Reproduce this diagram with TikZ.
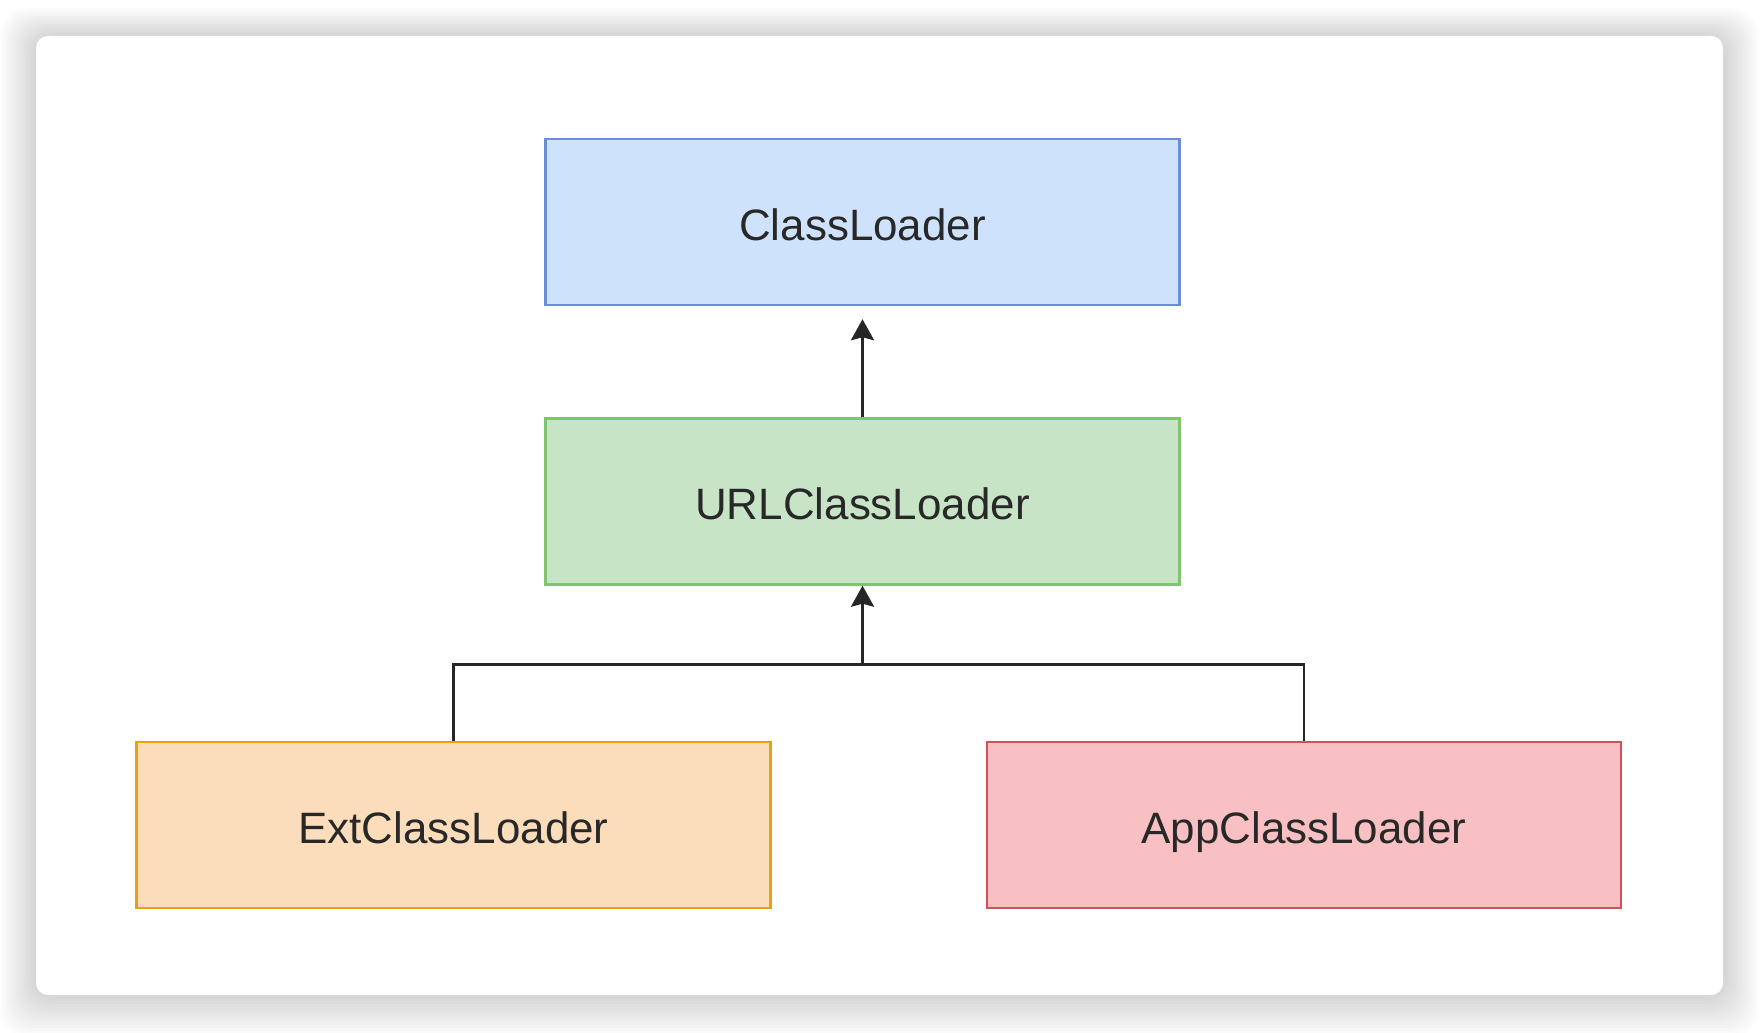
\documentclass[tikz,border=0pt]{standalone}
\usepackage{fontspec}
\setmainfont{Liberation Sans}
\usetikzlibrary{arrows.meta, positioning}
\definecolor{inkgray}{RGB}{40,40,40}
\definecolor{bluefill}{RGB}{207,226,252}
\definecolor{bluedraw}{RGB}{108,142,215}
\definecolor{greenfill}{RGB}{199,229,198}
\definecolor{greendraw}{RGB}{128,196,110}
\definecolor{orangefill}{RGB}{252,221,187}
\definecolor{orangedraw}{RGB}{232,160,20}
\definecolor{redfill}{RGB}{248,192,195}
\definecolor{reddraw}{RGB}{205,82,90}

\begin{document}
\begin{tikzpicture}[every node/.style={font=\fontsize{25}{30}\selectfont, text=inkgray},
      cls/.style={draw, line width=1.4pt, minimum width=12.68cm, minimum height=3.32cm,
                  inner sep=0pt, text height=21pt, text depth=0.5pt},
      base/.style={fill=bluefill, draw=bluedraw},
      url/.style={fill=greenfill, draw=greendraw},
      ext/.style={fill=orangefill, draw=orangedraw},
      app/.style={fill=redfill, draw=reddraw},
      link/.style={draw=black!85, line width=1.6pt},
      inherit/.style={link, -{Stealth[length=0.42cm, width=0.46cm, inset=0.06cm]}}]
    % page and card
    \fill[white] (0,0) rectangle (35.2,-20.64);
    \useasboundingbox (0,0) rectangle (35.2,-20.64);
    \foreach \k in {1,...,14}
      \fill[black, opacity=0.011, rounded corners=0.5cm]
        (0.72-0.05*\k,-0.72+0.04*\k) rectangle (34.46+0.05*\k,-19.9-0.06*\k);
    \fill[white, rounded corners=0.24cm] (0.72,-0.72) rectangle (34.46,-19.9);

    % class hierarchy
    \node[cls, base] (classloader) at (17.25,-4.44) {ClassLoader};
    \node[cls, url, below=2.22cm of classloader] (urlloader) {URLClassLoader};
    \node[cls, ext] (extloader) at (9.07,-16.5) {ExtClassLoader};
    \node[cls, app, right=4.28cm of extloader] (apploader) {AppClassLoader};

    \coordinate (fork) at ([yshift=-1.58cm]urlloader.south);
    \draw[inherit, shorten >=0.26cm] (urlloader) -- (classloader);
    \draw[inherit] (fork) -- (urlloader);
    \draw[link] (extloader.north) |- (fork) -| (apploader.north);
  \end{tikzpicture}
\end{document}
